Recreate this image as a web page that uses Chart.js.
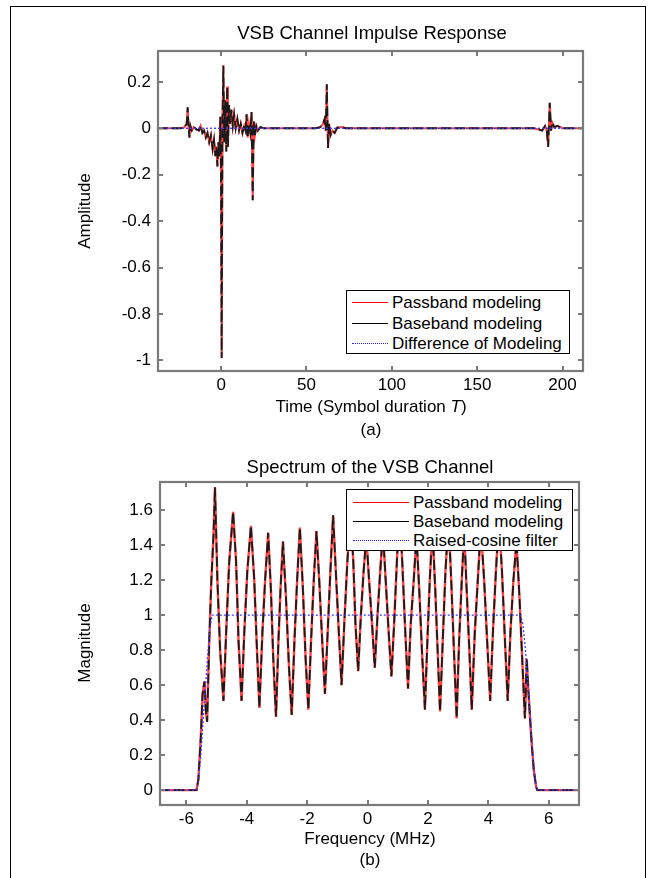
<!DOCTYPE html>
<html><head><meta charset="utf-8">
<script src="https://cdn.jsdelivr.net/npm/chart.js@4.4.1/dist/chart.umd.min.js"></script>
<style>
html,body{margin:0;padding:0;background:#fff;}
body{width:648px;height:878px;position:relative;overflow:hidden;font-family:"Liberation Sans",Arial,Helvetica,sans-serif;color:#000;}
#frame{position:absolute;left:10px;top:6px;width:636px;height:900px;border:1.5px solid #000;box-sizing:border-box;}
canvas{position:absolute;left:0;}
.t{position:absolute;white-space:nowrap;font-size:17px;transform:translate(-50%,-50%);line-height:1;}
.yl{transform:translate(-50%,-50%) rotate(-90deg);}
.leg{position:absolute;border:1.5px solid #000;background:#fff;box-sizing:border-box;}
.row{position:absolute;left:0;font-size:17px;line-height:1;white-space:nowrap;}
.smp{position:absolute;height:0;}
.lt{position:absolute;transform:translateY(-50%);}
</style></head>
<body>
<div id="frame"></div>
<canvas id="c1" width="648" height="440" style="top:0;width:648px;height:440px"></canvas>
<canvas id="c2" width="648" height="438" style="top:440px;width:648px;height:438px"></canvas>

<div class="t" style="left:372px;top:33px;font-size:18.5px">VSB Channel Impulse Response</div>
<div class="t yl" style="left:84px;top:211px">Amplitude</div>
<div class="t" style="left:371px;top:406px">Time (Symbol duration <i>T</i>)</div>
<div class="t" style="left:371px;top:429px">(a)</div>

<div class="t" style="left:370px;top:467px;font-size:18.5px">Spectrum of the VSB Channel</div>
<div class="t yl" style="left:84px;top:643px">Magnitude</div>
<div class="t" style="left:370px;top:838px">Frequency (MHz)</div>
<div class="t" style="left:370px;top:859px">(b)</div>

<div class="leg" style="left:346px;top:290px;width:224px;height:64px">
  <div class="smp" style="left:5px;width:36px;top:11px;border-top:1.5px solid #ff0000"></div>
  <div class="lt row" style="left:45px;top:11px">Passband modeling</div>
  <div class="smp" style="left:5px;width:36px;top:31.5px;border-top:1.5px solid #000"></div>
  <div class="lt row" style="left:45px;top:31.5px">Baseband modeling</div>
  <div class="smp" style="left:5px;width:36px;top:52px;border-top:1.5px dotted #2020ff"></div>
  <div class="lt row" style="left:45px;top:52px">Difference of Modeling</div>
</div>

<div class="leg" style="left:346px;top:489px;width:227px;height:62px">
  <div class="smp" style="left:6px;width:56px;top:12px;border-top:1.5px solid #ff0000"></div>
  <div class="lt row" style="left:66px;top:12px">Passband modeling</div>
  <div class="smp" style="left:6px;width:56px;top:31px;border-top:1.5px solid #000"></div>
  <div class="lt row" style="left:66px;top:31px">Baseband modeling</div>
  <div class="smp" style="left:6px;width:56px;top:50px;border-top:1.5px dotted #2020ff"></div>
  <div class="lt row" style="left:66px;top:50px">Raised-cosine filter</div>
</div>

<script>
// ---------- (a) impulse response ----------
const timeA = [-37,-24,-21.5,-20.2,-19.6,-19.2,-18.6,-18.0,-17.2,-16.0,-14.5,-13,-12,-11,-10,-9,-8,-7,-6,-5,-4.2,-3.4,-2.8,-2.2,-1.6,-1.0,-0.5,-0.1,0.3,0.8,1.3,1.8,2.4,3.0,3.5,4.0,4.6,5.2,6.0,6.8,7.6,8.5,9.5,10.5,11.5,12.5,13.5,14.3,14.9,15.5,16.3,17.1,17.8,18.5,19.1,19.8,20.6,21.5,23,25,55,58,59.5,60.6,61.3,61.9,62.6,63.3,64.1,65.2,66.5,68,71,73,183,186,188,189.8,190.8,191.6,192.5,193.3,194.0,195.2,197,200,212];
const passbandA = [0,0,0.005,0.02,0.09,0.02,-0.04,0.01,-0.01,0.005,-0.005,-0.01,0.01,-0.02,-0.01,-0.04,-0.02,-0.06,-0.03,-0.09,-0.05,-0.12,-0.08,-0.165,-0.06,-0.12,0.05,-0.2,-0.99,0.05,0.27,-0.06,0.12,-0.1,0.18,-0.08,0.1,0.02,0.08,0.01,0.06,0.0,0.04,-0.01,0.02,-0.02,0.01,-0.01,0.06,-0.04,0.02,-0.02,0.07,-0.31,0.03,-0.03,0.01,-0.01,0.005,0,0,0.005,0.015,0.04,-0.01,0.19,-0.085,0.02,-0.03,-0.01,-0.02,0.003,0.005,0,0,-0.005,-0.01,0.01,-0.01,-0.08,0.11,-0.01,0.025,0.005,0.01,0,0];
const basebandA = [0,0,0.005,0.02,0.09,0.02,-0.04,0.01,-0.01,0.005,-0.005,-0.01,0.01,-0.02,-0.01,-0.04,-0.02,-0.06,-0.03,-0.09,-0.05,-0.12,-0.08,-0.165,-0.06,-0.12,0.05,-0.2,-0.99,0.05,0.27,-0.06,0.12,-0.1,0.18,-0.08,0.1,0.02,0.08,0.01,0.06,0.0,0.04,-0.01,0.02,-0.02,0.01,-0.01,0.06,-0.04,0.02,-0.02,0.07,-0.31,0.03,-0.03,0.01,-0.01,0.005,0,0,0.005,0.015,0.04,-0.01,0.19,-0.085,0.02,-0.03,-0.01,-0.02,0.003,0.005,0,0,-0.005,-0.01,0.01,-0.01,-0.08,0.11,-0.01,0.025,0.005,0.01,0,0];
const diffTimeA = [-37,212];
const differenceA = [0,0];
const xTicksA = [0,50,100,150,200];
const yTicksA = [-1,-0.8,-0.6,-0.4,-0.2,0,0.2];

// ---------- (b) spectrum ----------
const freqB = [-6.87,-5.66,-5.6,-5.52,-5.46,-5.4,-5.35,-5.31,-5.24,-5.17,-5.1,-5.05,-4.97,-4.88,-4.77,-4.68,-4.58,-4.45,-4.35,-4.27,-4.17,-4.08,-3.98,-3.86,-3.75,-3.66,-3.58,-3.48,-3.39,-3.29,-3.2,-3.12,-3.03,-2.95,-2.88,-2.8,-2.7,-2.6,-2.51,-2.42,-2.33,-2.24,-2.14,-2.05,-1.96,-1.87,-1.78,-1.69,-1.6,-1.5,-1.41,-1.32,-1.23,-1.14,-1.05,-0.95,-0.86,-0.77,-0.67,-0.56,-0.47,-0.4,-0.31,-0.22,-0.13,-0.04,0.05,0.15,0.24,0.33,0.42,0.51,0.6,0.7,0.79,0.88,0.97,1.06,1.15,1.25,1.34,1.43,1.53,1.62,1.71,1.8,1.9,1.98,2.06,2.15,2.24,2.32,2.4,2.5,2.58,2.68,2.77,2.86,2.95,3.03,3.12,3.2,3.28,3.37,3.45,3.55,3.65,3.75,3.86,3.96,4.06,4.15,4.25,4.35,4.45,4.55,4.64,4.73,4.83,4.93,5.03,5.12,5.21,5.27,5.33,5.42,5.5,5.58,5.62,7];
const passbandB = [0,0,0.06,0.3,0.55,0.62,0.45,0.39,0.85,1.2,1.45,1.73,1.2,0.8,0.51,0.9,1.3,1.59,1.3,0.85,0.51,0.9,1.25,1.51,1.2,0.8,0.47,0.9,1.2,1.47,1.15,0.75,0.42,0.85,1.15,1.42,1.1,0.7,0.43,0.85,1.2,1.5,1.15,0.75,0.46,0.85,1.2,1.48,1.2,0.85,0.55,0.9,1.25,1.57,1.25,0.9,0.6,0.95,1.3,1.59,1.3,0.95,0.68,1.0,1.25,1.45,1.2,0.95,0.7,1.0,1.25,1.48,1.2,0.9,0.65,0.95,1.3,1.62,1.3,0.9,0.58,0.95,1.2,1.45,1.15,0.8,0.46,0.85,1.2,1.5,1.15,0.8,0.45,0.9,1.25,1.55,1.2,0.8,0.41,0.85,1.2,1.48,1.15,0.8,0.46,0.9,1.2,1.5,1.2,0.85,0.51,0.9,1.25,1.55,1.25,0.85,0.51,0.9,1.2,1.42,1.1,0.75,0.41,0.75,0.55,0.3,0.12,0.02,0,0];
const basebandB = [0,0,0.06,0.3,0.55,0.62,0.45,0.39,0.85,1.2,1.45,1.73,1.2,0.8,0.51,0.9,1.3,1.59,1.3,0.85,0.51,0.9,1.25,1.51,1.2,0.8,0.47,0.9,1.2,1.47,1.15,0.75,0.42,0.85,1.15,1.42,1.1,0.7,0.43,0.85,1.2,1.5,1.15,0.75,0.46,0.85,1.2,1.48,1.2,0.85,0.55,0.9,1.25,1.57,1.25,0.9,0.6,0.95,1.3,1.59,1.3,0.95,0.68,1.0,1.25,1.45,1.2,0.95,0.7,1.0,1.25,1.48,1.2,0.9,0.65,0.95,1.3,1.62,1.3,0.9,0.58,0.95,1.2,1.45,1.15,0.8,0.46,0.85,1.2,1.5,1.15,0.8,0.45,0.9,1.25,1.55,1.2,0.8,0.41,0.85,1.2,1.48,1.15,0.8,0.46,0.9,1.2,1.5,1.2,0.85,0.51,0.9,1.25,1.55,1.25,0.85,0.51,0.9,1.2,1.42,1.1,0.75,0.41,0.75,0.55,0.3,0.12,0.02,0,0];
const rcFreqB = [-6.87,-5.66,-5.6,-5.52,-5.45,-5.38,-5.3,-5.22,-5.14,5.06,5.14,5.22,5.3,5.38,5.45,5.52,5.6,7];
const raisedCosineB = [0,0,0.05,0.2,0.38,0.55,0.75,0.92,1,1,0.95,0.82,0.62,0.45,0.26,0.1,0,0];
const xTicksB = [-6,-4,-2,0,2,4,6];
const yTicksB = [0,0.2,0.4,0.6,0.8,1,1.2,1.4,1.6];

const pts = (xs, ys) => xs.map((x, i) => ({x: x, y: ys[i]}));
const FONT = {family: '"Liberation Sans", Arial, sans-serif', size: 17};

const boxTicks = {
  id: 'boxTicks',
  afterDatasetsDraw(chart) {
    const {ctx, chartArea: a, scales} = chart;
    ctx.save();
    ctx.strokeStyle = '#7a7a7a';
    ctx.lineWidth = 2;
    ctx.beginPath();
    const L = 5;
    scales.x.ticks.forEach(t => {
      const px = Math.round(scales.x.getPixelForValue(t.value));
      ctx.moveTo(px, a.bottom); ctx.lineTo(px, a.bottom - L);
      ctx.moveTo(px, a.top); ctx.lineTo(px, a.top + L);
    });
    scales.y.ticks.forEach(t => {
      const py = Math.round(scales.y.getPixelForValue(t.value));
      ctx.moveTo(a.left, py); ctx.lineTo(a.left + L, py);
      ctx.moveTo(a.right, py); ctx.lineTo(a.right - L, py);
    });
    ctx.stroke();
    ctx.lineWidth = 2.2;
    ctx.strokeRect(a.left, a.top, a.right - a.left, a.bottom - a.top);
    ctx.restore();
  }
};

function makeChart(id, W, H, area, datasets, xr, xt, yr, yt) {
  return new Chart(document.getElementById(id), {
    type: 'scatter',
    data: {datasets: datasets},
    plugins: [boxTicks],
    options: {
      responsive: false, animation: false, devicePixelRatio: 1,
      layout: {padding: {top: area.top, right: W - area.right, left: 0, bottom: 0}},
      plugins: {legend: {display: false}, tooltip: {enabled: false}, title: {display: false}},
      elements: {point: {radius: 0}, line: {tension: 0}},
      scales: {
        x: {
          type: 'linear', min: xr[0], max: xr[1],
          grid: {display: false, drawTicks: false}, border: {display: false},
          afterBuildTicks: s => { s.ticks = xt.map(v => ({value: v})); },
          afterFit: s => { s.height = H - area.bottom; },
          ticks: {font: FONT, color: '#000', padding: 4, maxRotation: 0, autoSkip: false, callback: v => String(v)}
        },
        y: {
          type: 'linear', min: yr[0], max: yr[1],
          grid: {display: false, drawTicks: false}, border: {display: false},
          afterBuildTicks: s => { s.ticks = yt.map(v => ({value: v})); },
          afterFit: s => { s.width = area.left; },
          ticks: {font: FONT, color: '#000', padding: 7, autoSkip: false, callback: v => String(v)}
        }
      }
    }
  });
}

makeChart('c1', 648, 440, {left: 158, right: 583, top: 51, bottom: 371}, [
  {label: 'Difference of Modeling', data: pts(diffTimeA, differenceA), showLine: true, borderColor: '#3a3aff', borderWidth: 1.3, borderDash: [2, 2], order: 0},
  {label: 'Baseband modeling', data: pts(timeA, basebandA), showLine: true, borderColor: '#1a1a1a', borderWidth: 1.8, borderDash: [10, 4], order: 1},
  {label: 'Passband modeling', data: pts(timeA, passbandA), showLine: true, borderColor: '#ff4040', borderWidth: 2, order: 2}
], [-37, 212], xTicksA, [-1.046, 0.333], yTicksA);

makeChart('c2', 648, 438, {left: 160, right: 579, top: 42, bottom: 365}, [
  {label: 'Raised-cosine filter', data: pts(rcFreqB, raisedCosineB), showLine: true, borderColor: '#3a3aff', borderWidth: 1.3, borderDash: [2, 2], order: 0},
  {label: 'Baseband modeling', data: pts(freqB, basebandB), showLine: true, borderColor: '#1a1a1a', borderWidth: 1.8, borderDash: [10, 4], order: 1},
  {label: 'Passband modeling', data: pts(freqB, passbandB), showLine: true, borderColor: '#ff4040', borderWidth: 2.4, order: 2}
], [-6.87, 7], xTicksB, [-0.085, 1.76], yTicksB);
</script>
</body></html>
